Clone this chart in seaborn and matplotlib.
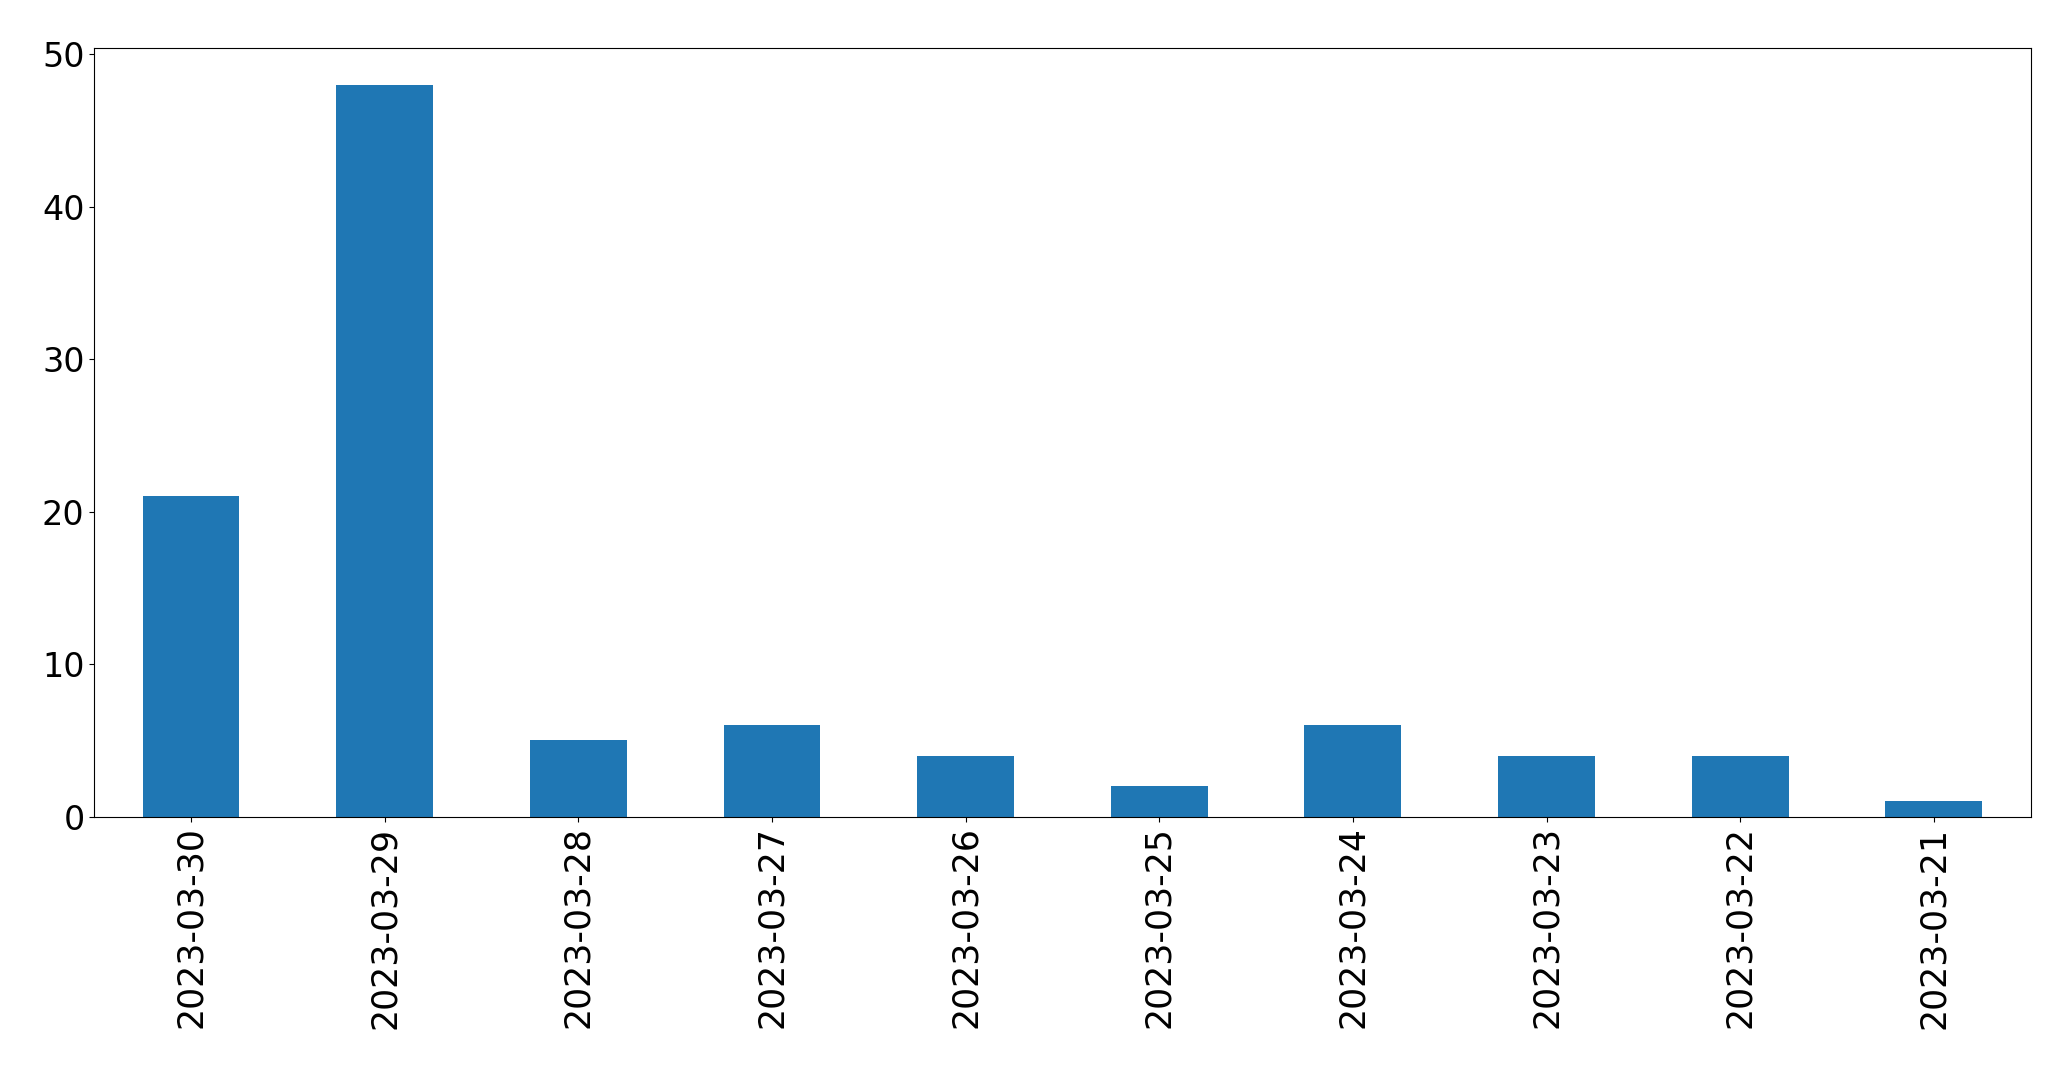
import pandas as pd
import matplotlib
matplotlib.use('Agg')
import matplotlib.pyplot as plt
import seaborn as sns

# datos
fechas = ['2023-03-30', '2023-03-29', '2023-03-28', '2023-03-27', '2023-03-26',
          '2023-03-25', '2023-03-24', '2023-03-23', '2023-03-22', '2023-03-21']
conteos = [21, 48, 5, 6, 4, 2, 6, 4, 4, 1]

df = pd.DataFrame({'fecha': fechas, 'conteo': conteos})

fig, ax = plt.subplots(figsize=(20.71, 10.69), dpi=100)
sns.barplot(data=df, x='fecha', y='conteo', color='#1f77b4', saturation=1,
            width=0.5, errorbar=None, ax=ax)
ax.set_xlim(-0.5, len(fechas) - 0.5)
ax.set_ylim(0, 50.4)
ax.set_xlabel('')
ax.set_ylabel('')
ax.tick_params(axis='x', labelsize=25)
ax.tick_params(axis='y', labelsize=24)
plt.xticks(rotation=90)
plt.subplots_adjust(left=0.0455, right=0.9805, top=0.955, bottom=0.236)
plt.savefig('out.png')
plt.close()
